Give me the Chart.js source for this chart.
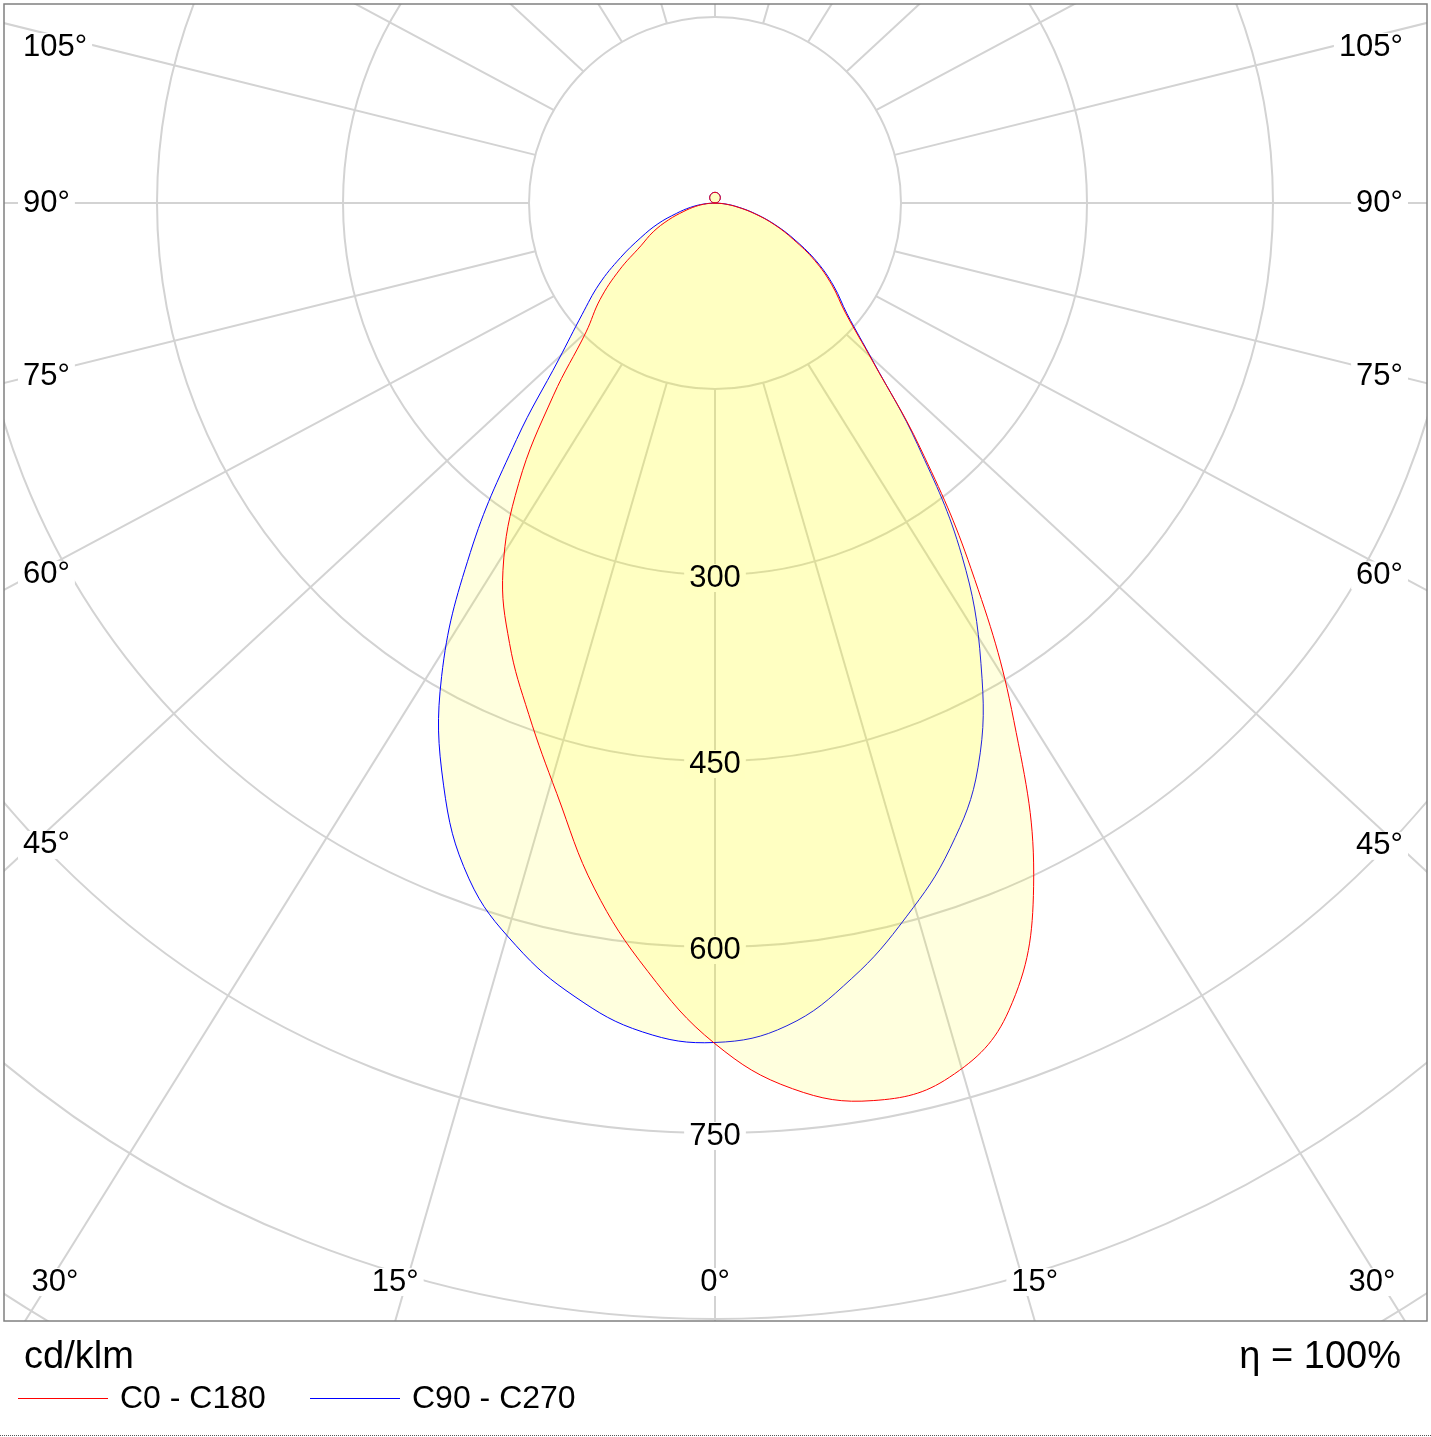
<!DOCTYPE html>
<html lang="en">
<head>
<meta charset="UTF-8" />
<title>Luminous intensity distribution</title>
<style>
  * { margin: 0; padding: 0; box-sizing: border-box; }
  body { background: #fff; width: 1431px; height: 1437px; overflow: hidden; }
  canvas { display: block; }
</style>
</head>
<body>
<canvas id="ldc" width="1431" height="1437"></canvas>

<script src="https://cdn.jsdelivr.net/npm/chart.js"></script>
<script>
  // gamma angles of the lower half, 0 = straight down, 90 = horizontal
  const gammaAngles = [0, 5, 10, 15, 20, 25, 30, 35, 40, 45, 50, 55, 60, 65, 70, 75, 80, 85, 90];
  // cd/klm
  const c0 = [678, 717, 735, 730, 693, 608, 482, 360, 257, 179, 137, 115, 93, 70, 51, 33, 18, 7, 0];
  const c180 = [678, 622, 561, 493, 439, 392, 342, 276, 203, 147, 121, 94, 69, 55, 40, 26, 16, 7, 0];
  const c90 = [677, 666, 635, 596, 554, 502, 429, 347, 254, 180, 139, 117, 95, 72, 52, 34, 19, 8, 0];
  const c270 = [677, 671, 650, 620, 580, 518, 441, 344, 249, 178, 140, 114, 88, 66, 49, 32, 20, 9, 0];
  // small upward lobe, same for all planes
  const upperAngles = [100, 110, 120, 130, 140, 150, 160, 170, 180];
  const upperValues = [1.5, 2.9, 4.3, 5.5, 6.6, 7.4, 8.1, 8.5, 8.6];

  const ringValues = [150, 300, 450, 600, 750, 900, 1050, 1200, 1350, 1500];
  const ringLabels = [300, 450, 600, 750];
  const spokeAngles = [0, 15, 30, 45, 60, 75, 90, 105, 120, 135, 150, 165, 180];
  const sideLabelAngles = [105, 90, 75, 60, 45];
  const bottomLabelAngles = [30, 15, 0];
  const seriesNames = ["C0 - C180", "C90 - C270"];
  const unitLabel = "cd/klm";
  const efficiencyLabel = "η = 100%";

  const xRange = [-573.4, 574.2];
  const yRange = [-901.6, 160.5];

  const rad = Math.PI / 180;
  const FONT = '"Liberation Sans", Arial, sans-serif';

  const polar = (v, g, side) => ({ x: side * v * Math.sin(g * rad), y: -v * Math.cos(g * rad) });

  // closed outline starting at the centre, so the spline has no seam on the smooth parts:
  // upward lobe left -> right, right plane 90 -> 0, left plane 0 -> 90
  function outline(leftVals, rightVals) {
    const pts = [polar(0, 90, -1)];
    upperAngles.forEach((g, i) => pts.push(polar(upperValues[i], g, -1)));
    for (let i = upperAngles.length - 2; i >= 0; i--) pts.push(polar(upperValues[i], upperAngles[i], 1));
    for (let i = gammaAngles.length - 1; i >= 0; i--) pts.push(polar(rightVals[i], gammaAngles[i], 1));
    for (let i = 1; i < gammaAngles.length; i++) pts.push(polar(leftVals[i], gammaAngles[i], -1));
    return pts;
  }

  function labelBox(ctx, text, x, y, align) {
    const w = ctx.measureText(text).width;
    const bx = align === "left" ? x : align === "right" ? x - w : x - w / 2;
    ctx.fillStyle = "#fff";
    ctx.fillRect(bx - 5, y - 14, w + 10, 28);
  }

  function boxedText(ctx, text, x, y, align) {
    labelBox(ctx, text, x, y, align);
    ctx.fillStyle = "#000";
    ctx.textAlign = align;
    ctx.fillText(text, x, y);
  }

  function ringLabelPos(chart, v) {
    const { x, y } = chart.scales;
    const cx = x.getPixelForValue(0);
    const unit = x.getPixelForValue(1) - cx;
    return { x: cx, y: y.getPixelForValue(0) + v * unit + 3 };
  }

  const polarGrid = {
    id: "polarGrid",
    beforeDatasetsDraw(chart) {
      const {
        ctx,
        chartArea: { left, top, right, bottom, width, height },
        scales: { x, y },
      } = chart;
      const cx = x.getPixelForValue(0);
      const cy = y.getPixelForValue(0);
      const unit = x.getPixelForValue(1) - cx;
      const aspect = width / height;
      const r0 = ringValues[0] * unit;

      ctx.save();
      ctx.beginPath();
      ctx.rect(left, top, width, height);
      ctx.clip();

      ctx.strokeStyle = "#d3d3d3";
      ctx.lineWidth = 2;
      ringValues.forEach((v) => {
        ctx.beginPath();
        ctx.arc(cx, cy, v * unit, 0, Math.PI * 2);
        ctx.stroke();
      });

      const spoke = (g, side) => {
        const s = Math.sin(g * rad) * side;
        const c = Math.cos(g * rad);
        return { x0: cx + r0 * s, y0: cy + r0 * c, dx: aspect * s, dy: c };
      };

      spokeAngles.forEach((g) => {
        [-1, 1].forEach((side) => {
          const p = spoke(g, side);
          ctx.beginPath();
          ctx.moveTo(p.x0, p.y0);
          ctx.lineTo(p.x0 + 3000 * p.dx, p.y0 + 3000 * p.dy);
          ctx.stroke();
        });
      });

      ctx.font = "31px " + FONT;
      ctx.textBaseline = "middle";

      sideLabelAngles.forEach((g) => {
        [-1, 1].forEach((side) => {
          const p = spoke(g, side);
          const xt = side < 0 ? left + 28 : right - 28;
          let yy = p.y0 + ((xt - p.x0) / p.dx) * p.dy;
          yy = Math.max(yy, top + 43);
          if (side < 0) boxedText(ctx, g + "°", left + 19, yy, "left");
          else boxedText(ctx, g + "°", right - 24, yy, "right");
        });
      });

      bottomLabelAngles.forEach((g) => {
        (g === 0 ? [1] : [-1, 1]).forEach((side) => {
          const p = spoke(g, side);
          let xx = p.x0 + ((bottom - p.y0) / p.dy) * p.dx;
          xx = Math.min(Math.max(xx, left + 51), right - 55);
          boxedText(ctx, g + "°", xx, bottom - 39, "center");
        });
      });

      // boxes only; the numbers go on top of the fills later
      ringLabels.forEach((v) => {
        const p = ringLabelPos(chart, v);
        labelBox(ctx, String(v), p.x, p.y, "center");
      });

      ctx.restore();
    },
    afterDatasetsDraw(chart) {
      const { ctx } = chart;
      ctx.save();
      ctx.font = "31px " + FONT;
      ctx.textBaseline = "middle";
      ctx.textAlign = "center";
      ctx.fillStyle = "#000";
      ringLabels.forEach((v) => {
        const p = ringLabelPos(chart, v);
        ctx.fillText(String(v), p.x, p.y);
      });
      ctx.restore();
    },
    afterDraw(chart) {
      const {
        ctx,
        chartArea: { left, top, right, bottom },
      } = chart;
      ctx.save();
      ctx.strokeStyle = "#808080";
      ctx.lineWidth = 1.5;
      ctx.strokeRect(left, top, right - left, bottom - top);

      ctx.strokeStyle = "#555";
      ctx.lineWidth = 1;
      ctx.setLineDash([1, 1]);
      ctx.beginPath();
      ctx.moveTo(0, chart.height - 1.5);
      ctx.lineTo(chart.width, chart.height - 1.5);
      ctx.stroke();
      ctx.setLineDash([]);

      ctx.fillStyle = "#000";
      ctx.textBaseline = "middle";
      ctx.font = "38px " + FONT;
      ctx.textAlign = "left";
      ctx.fillText(unitLabel, left + 20, bottom + 37);
      ctx.textAlign = "right";
      ctx.fillText(efficiencyLabel, right - 26, bottom + 37);

      ctx.font = "32px " + FONT;
      chart.data.datasets.forEach((ds, i) => {
        const lx = left + 14 + i * 292;
        const ly = bottom + 77.5;
        ctx.strokeStyle = ds.borderColor;
        ctx.lineWidth = 1;
        ctx.beginPath();
        ctx.moveTo(lx, ly);
        ctx.lineTo(lx + 90, ly);
        ctx.stroke();
        ctx.fillStyle = "#000";
        ctx.textAlign = "left";
        ctx.fillText(ds.label, lx + 102, ly + 1);
      });
      ctx.restore();
    },
  };

  const data = {
    datasets: [
      {
        label: seriesNames[0],
        data: outline(c180, c0),
        borderColor: "rgb(255, 0, 0)",
        backgroundColor: "rgba(255, 255, 0, 0.13)",
        borderWidth: 1,
        fill: "shape",
        tension: 0.4,
        pointRadius: 0,
      },
      {
        label: seriesNames[1],
        data: outline(c270, c90),
        borderColor: "rgb(0, 0, 255)",
        backgroundColor: "rgba(255, 255, 0, 0.13)",
        borderWidth: 1,
        fill: "shape",
        tension: 0.4,
        pointRadius: 0,
      },
    ],
  };

  const config = {
    type: "line",
    data: data,
    options: {
      responsive: false,
      animation: false,
      events: [],
      layout: { padding: { left: 4, top: 4, right: 4, bottom: 116 } },
      plugins: {
        legend: { display: false },
        tooltip: { enabled: false },
      },
      scales: {
        x: { type: "linear", min: xRange[0], max: xRange[1], display: false },
        y: { type: "linear", min: yRange[0], max: yRange[1], display: false },
      },
    },
    plugins: [polarGrid],
  };

  const ldcChart = new Chart(document.getElementById("ldc"), config);
</script>
</body>
</html>
